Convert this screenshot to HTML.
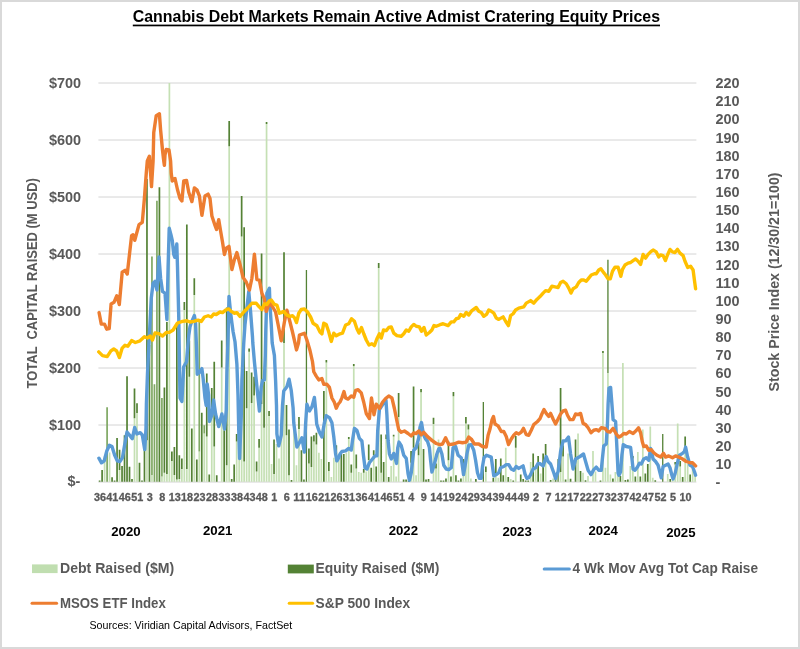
<!DOCTYPE html>
<html lang="en"><head><meta charset="utf-8"><title>Cannabis Debt Markets Remain Active Admist Cratering Equity Prices</title>
<style>html,body{margin:0;padding:0;background:#fff}body{width:800px;height:649px;overflow:hidden}svg{display:block}text{font-family:"Liberation Sans",sans-serif;white-space:pre}</style></head><body>
<svg width="800" height="649" viewBox="0 0 800 649">
<rect x="0" y="0" width="800" height="649" fill="#d9d9d9"/>
<rect x="2" y="2" width="796" height="645" fill="#ffffff"/>
<g stroke="#d4d4d4" stroke-width="1">
<line x1="98.4" y1="83" x2="696.4" y2="83"/>
<line x1="98.4" y1="140" x2="696.4" y2="140"/>
<line x1="98.4" y1="197" x2="696.4" y2="197"/>
<line x1="98.4" y1="254" x2="696.4" y2="254"/>
<line x1="98.4" y1="311" x2="696.4" y2="311"/>
<line x1="98.4" y1="368" x2="696.4" y2="368"/>
<line x1="98.4" y1="425" x2="696.4" y2="425"/>
<line x1="98.4" y1="482.0" x2="696.4" y2="482.0"/>
</g>
<path fill="#c5e0b4" d="M103.75 456.3h1.7V481.7h-1.7zM108.74 452.4h1.7V481.7h-1.7zM118.70 470.0h1.7V481.7h-1.7zM133.65 418.3h1.7V481.7h-1.7zM136.15 413.0h1.7V481.7h-1.7zM146.11 440.2h1.7V481.7h-1.7zM151.10 475.0h1.7V481.7h-1.7zM161.06 476.5h1.7V481.7h-1.7zM163.55 472.8h1.7V481.7h-1.7zM166.05 474.0h1.7V481.7h-1.7zM168.54 83.0h1.7V481.7h-1.7zM171.03 460.9h1.7V481.7h-1.7zM173.52 475.0h1.7V481.7h-1.7zM176.01 479.6h1.7V481.7h-1.7zM178.50 479.0h1.7V481.7h-1.7zM181.00 469.0h1.7V481.7h-1.7zM183.49 310.0h1.7V481.7h-1.7zM185.98 469.0h1.7V481.7h-1.7zM188.47 376.8h1.7V481.7h-1.7zM193.45 295.0h1.7V481.7h-1.7zM198.44 451.5h1.7V481.7h-1.7zM203.42 433.4h1.7V481.7h-1.7zM205.91 436.5h1.7V481.7h-1.7zM210.90 410.0h1.7V481.7h-1.7zM213.39 446.5h1.7V481.7h-1.7zM220.86 367.4h1.7V481.7h-1.7zM225.85 465.2h1.7V481.7h-1.7zM228.34 146.2h1.7V481.7h-1.7zM235.81 441.5h1.7V481.7h-1.7zM238.31 455.0h1.7V481.7h-1.7zM240.80 236.6h1.7V481.7h-1.7zM243.29 461.5h1.7V481.7h-1.7zM245.78 408.2h1.7V481.7h-1.7zM248.27 351.8h1.7V481.7h-1.7zM250.76 403.0h1.7V481.7h-1.7zM253.26 395.5h1.7V481.7h-1.7zM255.75 471.5h1.7V481.7h-1.7zM258.24 447.8h1.7V481.7h-1.7zM260.73 404.0h1.7V481.7h-1.7zM263.22 427.8h1.7V481.7h-1.7zM265.71 124.0h1.7V481.7h-1.7zM268.21 416.0h1.7V481.7h-1.7zM270.70 464.0h1.7V481.7h-1.7zM273.19 474.0h1.7V481.7h-1.7zM275.68 444.0h1.7V481.7h-1.7zM278.17 458.4h1.7V481.7h-1.7zM280.66 420.0h1.7V481.7h-1.7zM283.16 343.0h1.7V481.7h-1.7zM285.65 435.2h1.7V481.7h-1.7zM288.14 475.2h1.7V481.7h-1.7zM293.12 416.0h1.7V481.7h-1.7zM295.61 465.2h1.7V481.7h-1.7zM298.11 429.0h1.7V481.7h-1.7zM308.07 463.4h1.7V481.7h-1.7zM310.56 467.0h1.7V481.7h-1.7zM313.06 441.5h1.7V481.7h-1.7zM315.55 444.6h1.7V481.7h-1.7zM318.04 452.8h1.7V481.7h-1.7zM320.53 459.0h1.7V481.7h-1.7zM325.51 362.4h1.7V481.7h-1.7zM328.01 470.9h1.7V481.7h-1.7zM330.50 477.0h1.7V481.7h-1.7zM332.99 457.8h1.7V481.7h-1.7zM335.48 461.5h1.7V481.7h-1.7zM337.97 454.0h1.7V481.7h-1.7zM345.45 452.8h1.7V481.7h-1.7zM347.94 439.0h1.7V481.7h-1.7zM350.43 472.8h1.7V481.7h-1.7zM352.92 366.0h1.7V481.7h-1.7zM355.42 468.4h1.7V481.7h-1.7zM357.91 472.0h1.7V481.7h-1.7zM360.40 472.8h1.7V481.7h-1.7zM362.89 472.8h1.7V481.7h-1.7zM365.38 471.5h1.7V481.7h-1.7zM367.87 460.0h1.7V481.7h-1.7zM372.86 455.2h1.7V481.7h-1.7zM377.84 268.1h1.7V481.7h-1.7zM380.33 472.8h1.7V481.7h-1.7zM385.32 439.0h1.7V481.7h-1.7zM390.30 465.9h1.7V481.7h-1.7zM392.79 436.5h1.7V481.7h-1.7zM395.28 476.5h1.7V481.7h-1.7zM397.77 417.1h1.7V481.7h-1.7zM410.23 462.8h1.7V481.7h-1.7zM412.72 447.8h1.7V481.7h-1.7zM415.22 475.2h1.7V481.7h-1.7zM417.71 455.2h1.7V481.7h-1.7zM420.20 392.2h1.7V481.7h-1.7zM432.66 424.0h1.7V481.7h-1.7zM435.15 468.4h1.7V481.7h-1.7zM437.64 439.6h1.7V481.7h-1.7zM447.61 460.2h1.7V481.7h-1.7zM452.59 396.2h1.7V481.7h-1.7zM462.56 475.9h1.7V481.7h-1.7zM465.05 423.4h1.7V481.7h-1.7zM467.54 429.6h1.7V481.7h-1.7zM470.03 478.4h1.7V481.7h-1.7zM484.98 472.0h1.7V481.7h-1.7zM494.95 474.0h1.7V481.7h-1.7zM497.44 477.8h1.7V481.7h-1.7zM504.92 447.8h1.7V481.7h-1.7zM509.90 479.0h1.7V481.7h-1.7zM514.88 447.8h1.7V481.7h-1.7zM529.83 462.0h1.7V481.7h-1.7zM534.82 466.5h1.7V481.7h-1.7zM539.80 473.4h1.7V481.7h-1.7zM544.78 456.5h1.7V481.7h-1.7zM552.26 478.4h1.7V481.7h-1.7zM559.73 472.0h1.7V481.7h-1.7zM562.23 456.5h1.7V481.7h-1.7zM567.21 453.4h1.7V481.7h-1.7zM577.18 433.4h1.7V481.7h-1.7zM582.16 472.8h1.7V481.7h-1.7zM587.14 475.9h1.7V481.7h-1.7zM592.13 450.9h1.7V481.7h-1.7zM594.62 471.5h1.7V481.7h-1.7zM602.09 353.0h1.7V481.7h-1.7zM604.59 467.8h1.7V481.7h-1.7zM607.08 373.0h1.7V481.7h-1.7zM609.57 474.6h1.7V481.7h-1.7zM614.55 472.0h1.7V481.7h-1.7zM617.04 474.0h1.7V481.7h-1.7zM622.03 363.0h1.7V481.7h-1.7zM629.50 466.0h1.7V481.7h-1.7zM631.99 458.5h1.7V481.7h-1.7zM636.98 452.0h1.7V481.7h-1.7zM641.96 429.6h1.7V481.7h-1.7zM649.44 426.5h1.7V481.7h-1.7zM651.93 477.8h1.7V481.7h-1.7zM666.88 474.0h1.7V481.7h-1.7zM671.86 477.8h1.7V481.7h-1.7zM674.35 464.6h1.7V481.7h-1.7zM676.84 423.4h1.7V481.7h-1.7zM679.34 466.5h1.7V481.7h-1.7zM684.32 446.5h1.7V481.7h-1.7zM686.81 464.0h1.7V481.7h-1.7zM691.79 466.5h1.7V481.7h-1.7zM694.29 475.2h1.7V481.7h-1.7z"/>
<path fill="#548235" d="M98.77 480.5h1.7V481.7h-1.7zM101.26 470.0h1.7V481.7h-1.7zM111.23 477.2h1.7V481.7h-1.7zM113.72 480.5h1.7V481.7h-1.7zM116.21 438.0h1.7V481.7h-1.7zM118.70 449.7h1.7V470.0h-1.7zM121.20 466.0h1.7V481.7h-1.7zM123.69 435.3h1.7V481.7h-1.7zM126.18 376.2h1.7V481.7h-1.7zM128.67 466.8h1.7V481.7h-1.7zM131.16 479.0h1.7V481.7h-1.7zM133.65 388.4h1.7V418.3h-1.7zM136.15 403.3h1.7V413.0h-1.7zM138.64 462.8h1.7V481.7h-1.7zM141.13 480.5h1.7V481.7h-1.7zM143.62 450.3h1.7V481.7h-1.7zM146.11 179.0h1.7V440.2h-1.7zM148.60 345.0h1.7V481.7h-1.7zM158.57 187.2h1.7V481.7h-1.7zM163.55 387.4h1.7V472.8h-1.7zM166.05 322.0h1.7V474.0h-1.7zM171.03 451.5h1.7V460.9h-1.7zM173.52 447.0h1.7V475.0h-1.7zM176.01 325.0h1.7V479.6h-1.7zM178.50 455.2h1.7V479.0h-1.7zM181.00 458.4h1.7V469.0h-1.7zM183.49 302.0h1.7V310.0h-1.7zM185.98 224.5h1.7V469.0h-1.7zM188.47 340.5h1.7V376.8h-1.7zM190.96 428.4h1.7V481.7h-1.7zM193.45 278.2h1.7V295.0h-1.7zM195.95 459.6h1.7V481.7h-1.7zM200.93 412.8h1.7V481.7h-1.7zM205.91 373.6h1.7V436.5h-1.7zM208.40 474.6h1.7V481.7h-1.7zM210.90 388.0h1.7V410.0h-1.7zM213.39 361.8h1.7V446.5h-1.7zM215.88 475.2h1.7V481.7h-1.7zM220.86 340.5h1.7V367.4h-1.7zM223.35 430.2h1.7V481.7h-1.7zM225.85 307.6h1.7V465.2h-1.7zM228.34 121.0h1.7V146.2h-1.7zM230.83 479.0h1.7V481.7h-1.7zM233.32 464.6h1.7V481.7h-1.7zM235.81 434.0h1.7V441.5h-1.7zM240.80 196.0h1.7V236.6h-1.7zM243.29 227.2h1.7V461.5h-1.7zM245.78 371.0h1.7V408.2h-1.7zM248.27 348.6h1.7V351.8h-1.7zM250.76 372.4h1.7V403.0h-1.7zM253.26 376.8h1.7V395.5h-1.7zM255.75 461.5h1.7V471.5h-1.7zM258.24 439.0h1.7V447.8h-1.7zM260.73 253.5h1.7V404.0h-1.7zM263.22 381.8h1.7V427.8h-1.7zM265.71 122.0h1.7V124.0h-1.7zM268.21 411.0h1.7V416.0h-1.7zM273.19 439.6h1.7V474.0h-1.7zM283.16 252.2h1.7V343.0h-1.7zM285.65 404.9h1.7V435.2h-1.7zM288.14 429.6h1.7V475.2h-1.7zM290.63 480.0h1.7V481.7h-1.7zM298.11 417.0h1.7V429.0h-1.7zM300.60 450.2h1.7V481.7h-1.7zM303.09 479.5h1.7V481.7h-1.7zM305.78 270.1h1.3V481.7h-1.3zM308.07 448.4h1.7V463.4h-1.7zM310.56 436.5h1.7V467.0h-1.7zM313.06 435.2h1.7V441.5h-1.7zM315.55 432.8h1.7V444.6h-1.7zM323.02 391.1h1.7V481.7h-1.7zM325.51 359.9h1.7V362.4h-1.7zM328.01 462.0h1.7V470.9h-1.7zM335.48 445.2h1.7V461.5h-1.7zM340.46 454.0h1.7V481.7h-1.7zM342.96 454.0h1.7V481.7h-1.7zM347.94 437.0h1.7V439.0h-1.7zM350.43 464.6h1.7V472.8h-1.7zM352.92 364.0h1.7V366.0h-1.7zM355.42 454.6h1.7V468.4h-1.7zM362.89 469.0h1.7V472.8h-1.7zM367.87 444.6h1.7V460.0h-1.7zM370.37 467.8h1.7V481.7h-1.7zM372.86 450.2h1.7V455.2h-1.7zM375.35 466.5h1.7V481.7h-1.7zM377.84 263.1h1.7V268.1h-1.7zM380.33 434.6h1.7V472.8h-1.7zM382.82 462.0h1.7V481.7h-1.7zM385.32 434.6h1.7V439.0h-1.7zM387.81 477.0h1.7V481.7h-1.7zM392.79 434.8h1.7V436.5h-1.7zM397.77 392.9h1.7V417.1h-1.7zM402.76 479.6h1.7V481.7h-1.7zM405.25 479.6h1.7V481.7h-1.7zM407.74 480.5h1.7V481.7h-1.7zM410.23 450.9h1.7V462.8h-1.7zM412.72 386.6h1.7V447.8h-1.7zM417.71 442.8h1.7V455.2h-1.7zM420.20 389.1h1.7V392.2h-1.7zM422.69 449.0h1.7V481.7h-1.7zM425.18 479.6h1.7V481.7h-1.7zM427.67 479.0h1.7V481.7h-1.7zM432.66 417.8h1.7V424.0h-1.7zM435.15 463.4h1.7V468.4h-1.7zM440.13 480.5h1.7V481.7h-1.7zM442.62 480.5h1.7V481.7h-1.7zM445.12 478.4h1.7V481.7h-1.7zM447.61 441.5h1.7V460.2h-1.7zM450.10 476.5h1.7V481.7h-1.7zM452.59 391.9h1.7V396.2h-1.7zM455.08 475.2h1.7V481.7h-1.7zM457.57 480.5h1.7V481.7h-1.7zM460.07 478.4h1.7V481.7h-1.7zM462.56 459.0h1.7V475.9h-1.7zM465.05 417.1h1.7V423.4h-1.7zM467.54 424.6h1.7V429.6h-1.7zM475.02 479.0h1.7V481.7h-1.7zM482.69 401.9h1.3V481.7h-1.3zM484.98 466.5h1.7V472.0h-1.7zM492.46 477.8h1.7V481.7h-1.7zM494.95 459.0h1.7V474.0h-1.7zM499.93 458.4h1.7V481.7h-1.7zM502.43 475.2h1.7V481.7h-1.7zM507.41 477.0h1.7V481.7h-1.7zM512.39 480.5h1.7V481.7h-1.7zM514.88 435.9h1.7V447.8h-1.7zM519.87 474.6h1.7V481.7h-1.7zM522.36 479.0h1.7V481.7h-1.7zM524.85 480.5h1.7V481.7h-1.7zM527.34 480.5h1.7V481.7h-1.7zM532.33 453.4h1.7V481.7h-1.7zM537.31 455.9h1.7V481.7h-1.7zM542.29 453.4h1.7V481.7h-1.7zM544.78 444.0h1.7V456.5h-1.7zM549.77 480.0h1.7V481.7h-1.7zM554.75 477.8h1.7V481.7h-1.7zM557.44 459.0h1.3V481.7h-1.3zM559.73 388.0h1.7V472.0h-1.7zM562.23 445.2h1.7V456.5h-1.7zM564.72 479.6h1.7V481.7h-1.7zM569.70 478.8h1.7V481.7h-1.7zM574.68 439.6h1.7V481.7h-1.7zM579.67 470.9h1.7V481.7h-1.7zM584.65 480.2h1.7V481.7h-1.7zM599.60 480.5h1.7V481.7h-1.7zM602.09 351.0h1.7V353.0h-1.7zM607.28 259.8h1.3V373.0h-1.3zM612.06 478.4h1.7V481.7h-1.7zM619.54 476.0h1.7V481.7h-1.7zM624.52 480.0h1.7V481.7h-1.7zM627.01 479.6h1.7V481.7h-1.7zM631.99 456.0h1.7V458.5h-1.7zM634.49 476.5h1.7V481.7h-1.7zM639.47 476.5h1.7V481.7h-1.7zM644.45 473.4h1.7V481.7h-1.7zM646.94 464.0h1.7V481.7h-1.7zM654.42 480.2h1.7V481.7h-1.7zM662.09 434.0h1.3V481.7h-1.3zM669.37 479.0h1.7V481.7h-1.7zM674.35 462.0h1.7V464.6h-1.7zM679.34 460.9h1.7V466.5h-1.7zM681.83 477.0h1.7V481.7h-1.7zM684.32 436.5h1.7V446.5h-1.7zM689.30 474.6h1.7V481.7h-1.7z"/>
<path fill="#7fa863" d="M106.25 407.2h1.7V481.7h-1.7zM151.10 256.5h1.7V475.0h-1.7zM153.59 384.2h1.7V481.7h-1.7zM156.08 200.8h1.7V481.7h-1.7zM161.06 398.0h1.7V476.5h-1.7zM198.44 322.0h1.7V451.5h-1.7zM203.42 425.2h1.7V433.4h-1.7z"/>
<polyline fill="none" stroke="#5b9bd5" stroke-width="3.4" stroke-linejoin="round" stroke-linecap="round" points="98.9,458.2 101.5,462.8 104.2,460.9 106.8,451 109.4,445.2 112,446.5 114.6,455 117.25,460.9 119.9,461.5 122.5,457.6 124.5,445.8 127,432 129.7,435.3 132.3,438.6 134.7,427.5 136.9,434 140.2,432.7 142.3,435 144.75,449.6 146,428 146.4,404 147.5,373 148.75,348 150,323 151.25,298.25 153.1,283.25 155,281.4 156.9,290 159,257 160.6,278.25 162.5,291.4 165,293.25 166.9,319.5 168.1,267 169.2,228.2 171,235 172.25,240.3 173.75,254.5 174.8,257.3 176.8,244 177.5,267 178.75,317 179.4,360.5 180,398 181.9,401.5 183.75,366.75 186.5,361.75 188.75,335.5 190,326.75 191.25,323 194.4,315.5 195.6,323 196.5,348 197.25,374.25 199.4,372.4 201.9,368.6 203.1,378 205,398 206.2,405.5 207.2,384 208.6,395 209.5,421.5 211.9,415 213.6,400 215.6,414 218.75,426.5 221.9,414 224.5,429 226.25,410.25 226.9,373 228.1,335.5 229,296.4 230.5,312 231.9,323 233.1,331.75 235,341.75 236.9,364.25 238,395 238.75,430 239.6,458.5 241.25,416.5 241.9,380.5 243.75,343 245,324.5 248.75,291.4 250.6,312 252.5,337 252.8,343 254.4,361.75 256.9,386.75 259.4,411.1 261.25,386.75 262.5,380.5 264.4,379.9 265.3,355.5 265.8,330 266.9,293.25 269.4,288.25 270,305.75 271.25,324.5 272.2,343 274.4,355.5 275.6,380.5 276.5,405.5 276.9,434 278.75,445.9 281.25,435.25 282.5,405.5 283.75,391.1 286.9,386.75 289.1,379.25 291.25,390.5 293.1,408 293.75,422.75 296.9,447.1 299.4,442.75 301.9,437.75 304.4,452.1 305.6,424 306.9,404.25 309.4,411 311.9,406.9 314.4,397.4 315.6,409.25 316.7,424 319.4,432.1 321.9,437.1 324.4,422.75 326.25,415.7 329.4,417.6 331.9,422.75 333.75,436.5 335.6,454 336.9,460.9 338.75,457.75 340,454 341.9,451.5 345.6,450.9 348.75,448.4 351.25,450 352.5,440.5 354.4,428.4 356.9,430.3 359.4,438.4 361.9,441 363.4,455 365,467.75 366.9,469 369.4,462.75 372.5,459 375,455.9 376.9,455.9 377.7,431 379.4,409.5 382.5,404.75 386,400.4 386.9,414.75 388.1,440.5 389.4,454 391.25,459 393.75,453.4 396.5,463.4 397.75,447.75 399,442.1 401.25,445.6 403.75,455.25 406.25,458.4 408.1,474 409.4,480.25 411.25,472.75 413.75,450.25 416.25,447.5 418.75,437.75 420,427.25 421.5,422.5 423.4,434.3 425.3,438.7 427.5,441.3 429.4,447.5 430.6,460.25 431.9,472.1 434.4,464 436.9,454 438.75,448.8 440,448.2 441.9,454 443.75,465.25 446.25,469 448.75,469.6 451.25,467.75 453.1,447.75 455.6,446.5 458.1,455.25 461.25,457.75 463.5,474.6 465,466.5 466.9,454 468.75,445.25 471.25,444.6 473.75,450.25 475.6,460.25 477.5,472.75 479.4,478.4 481.25,478.4 482.5,466.5 484,457.75 486.5,455.25 491.25,457.1 492.5,466.5 493.75,475.9 496.25,474.6 498.75,472.75 500.6,467.75 503.75,466.5 506.25,464.6 508.75,464.6 511.25,469 513.75,470.25 516.25,466.5 518.75,468.4 523.1,465.9 525,474 526.9,478.4 528.75,477.75 530.6,474.6 533.1,469 535.6,467.75 538.1,463.4 540,463.7 543.1,465.9 546.25,456.5 548.1,461.5 550.6,464 553.75,472.75 555.6,478.4 558.1,471.5 560.6,451.5 563.1,440.9 565.6,440.9 568.5,437.1 570.6,454 573.1,469 575.6,459 580,456.5 583.5,454 585.6,461.5 588.1,470.25 591,474.6 593.75,469.6 596.25,467.1 598.75,470.25 601.25,470.25 602.5,457.75 603.75,445.9 606.25,444 607.5,422.75 608.1,404 609,388 610.6,387.4 611.9,404 613.1,419.6 615.6,421.5 616.9,447.75 618.1,473 619,475.25 620.6,471.8 621.9,455 623.3,444.6 626.25,446.5 630.6,447.4 631.9,458.4 633.1,469 635,470.25 637.5,467 639.4,463.2 641.25,464 643.75,459 646.25,457.75 648.75,460.25 650.6,448.4 653.1,459 655.6,461.5 658.1,465.25 660,472.75 661.25,477.75 663.1,466.5 665.6,465.25 668.1,464 670,467.75 671.9,475.25 673.1,479 675,474 677.5,462.75 679.4,455.25 682.5,453.4 684.4,451.5 685.6,447.1 687.5,456.5 690,465.25 692.5,466.5 694.4,471.5 695.6,475.25"/>
<polyline fill="none" stroke="#ed7d31" stroke-width="3.4" stroke-linejoin="round" stroke-linecap="round" points="99.1,312.75 101.3,324.1 104.5,324.1 106.7,329.2 109.2,328.6 111.1,303.9 114,302.3 116.8,295.7 119.3,304.5 122.2,272.2 125,270.3 127.25,274 131.6,235.6 133,234.7 134.75,240.3 139,224.6 142.3,222.3 144.4,198.5 146.25,173.5 147.3,161 149.4,156.25 151.5,186.6 153.1,161 153.75,132.5 156.25,115.6 159.4,113.75 160.6,130 162.5,150 163.75,161 164.4,165.4 165,155 166.25,149.4 169,150 170.6,161 171.25,173.5 172.25,181 175,178.5 177.5,189.75 180,198.5 181.9,201 183.75,181 186.5,180.4 188.75,192.25 191.9,201.6 194.4,187.9 196.9,189.75 199.4,196 201.9,215.4 205,196 208.1,194.1 210,198.5 211.9,216 215,225.4 216.5,229.5 218.75,219.75 220.6,231 222.5,242 224.4,254.5 226.25,248.25 229,246.4 231.9,269.5 234.4,259.5 236.9,252.6 240,264.5 243.1,277.6 246.25,282 249.4,290.1 251.9,278.25 254.4,254.1 256.9,279.5 259.4,280.1 261.9,293.25 264.4,298.9 266.25,311.4 269.4,303.25 271.9,305.75 275.6,312 278.1,324.5 281.25,340.75 284.4,322 286.9,310.1 290,322 292.5,332 295,343 296.5,349.9 298.5,343 299.4,335.1 304.4,333.25 306.9,340.1 307.8,343 310,350.5 312.5,361.75 313.75,371.75 316.25,376.1 318.75,379.9 321.9,378.6 323.75,384.25 326.9,384.25 329.4,387.4 331.9,398 334.4,402.4 336.25,408.2 338.1,404.25 340,402 341.9,397.9 344,391.6 345.6,397.9 348.1,399.1 351.25,396 353.75,397.25 355.6,390.4 358.1,389.75 361.25,392.9 363.75,402.25 366.25,413.5 369.4,418.5 371.5,397.9 374,414.75 376.25,404.1 379.4,408.5 382.5,402.25 385.6,398.5 388.75,396 391.9,397.9 394.4,408.5 396.9,421 398.75,429.75 401.25,432.25 404.4,431 408.1,433.5 411.25,436 413.75,432.9 416.25,433.5 418.75,431 421.25,434.75 423.75,432.25 427.5,436.6 431.9,440.4 436.25,443.5 440,444.7 442.5,444 445.6,437.75 448.75,444.6 453.75,444 458.75,442.1 462.5,442.75 466.25,442.1 468.75,437.1 471.25,439 474.4,444 478.75,444 482.5,446.5 486.25,447.1 488.1,435.25 490,429 491.9,420.25 493.5,416.5 495,424 498.1,425.9 501.25,431.5 503.75,431.5 506.25,436.5 508.5,444.6 511.25,439 513.75,435.25 516.25,432.75 518.75,434 521.25,432.1 523.5,428.4 526.25,434.6 528.75,435.25 531.25,430.25 533.75,424.6 537.5,421.5 540,418.7 541.9,414 544,409.6 546.25,413.4 548.75,416.5 550.6,413.4 553.1,419 555.6,424 558.1,419 560.6,414 563.1,410.9 565.6,410.25 567.5,415.25 570,419.6 573.1,419.6 575.6,414 578.1,414.6 580.6,413.4 583.1,423.4 585.6,424.6 588.1,427.75 591,432.75 593.75,430.25 596.25,429.6 598.75,430.9 601.25,427.75 605,428.4 607.5,431.5 610,432.1 613.1,428.4 616.25,434 618.75,437.1 621.25,435.9 623.75,433.4 626.25,434 629.4,431.5 633.1,433.4 636.25,430.5 638.5,427.75 640.6,432.75 642.25,441.5 643.75,446.5 646.25,445.9 648.75,450.25 651.25,449.6 653.75,452.75 656.9,455.25 660.6,457.1 663.5,453.4 665.6,457.1 668.75,455.9 672.5,457.75 675.6,455.9 678.75,457.1 682.5,459 686.25,461.5 690,462.75 692.5,462.75 695.6,465.9"/>
<polyline fill="none" stroke="#ffc000" stroke-width="3.4" stroke-linejoin="round" stroke-linecap="round" points="98.75,351.9 102.5,355.6 107.2,356.6 110.9,350.9 113.75,349 116.6,350.9 119.4,357.5 122.2,348.1 125,345.3 127.8,346.25 131.6,340.6 135.3,342.5 140,340.8 144.4,336.75 147.5,338 150,336 152.5,340 155,333 158.75,333.6 162.5,336 166.25,332.4 169.4,332.4 173.1,330 177.5,323 182.5,321.4 186.9,320.75 190,322 193.75,321.4 198.1,320.1 201.25,321.4 204.4,317 208.1,315.75 211.25,317 213.75,313.9 216.25,314.5 220,312 222.5,312.6 225.6,310.1 228.75,308.9 231.25,311.4 234.4,313.25 236.9,312.6 240,316.4 243.75,312 247.5,308.25 251.9,303.25 256.25,303.25 258.75,306.4 261.9,309.5 264.4,303.9 266.9,304.5 269.4,300.75 271.25,300.1 274.4,304.5 276.9,305.1 279.4,313.25 281.25,312.6 283.75,311.4 286.9,315.1 290,316.4 292.5,315.75 294.4,317.6 296.5,322.6 298.75,313.25 301.25,309.5 304.4,308.9 307.5,312 310.6,317 313.1,323.25 316.9,325.75 320,332 321.9,333.9 323.75,323.25 326.25,324.5 328.75,332 331.25,341.4 333.75,333.25 336.25,335.75 340,333.8 342.5,333.1 345.6,325 348.75,323.75 351.5,318.75 354.4,321.25 356.9,328.75 359,333.1 361.5,327.5 363.75,333.75 366.25,340 369,345 371.9,343.75 374.4,345.6 376.9,338.75 379.4,333.75 381.25,338.1 383.5,330 386.25,330.6 388.75,327.5 391.25,326.9 393.75,333.1 396.9,335.6 401.25,336.25 403.75,333.75 406.25,330 408.75,331.25 411.25,326.9 413.75,324.4 416.25,326.25 419.4,326.9 421.5,331.25 424,327.5 426.25,335 429.4,332.5 431.9,330 434,325.6 436.25,326.25 440,324.7 443.1,323.75 448.1,325.6 451.25,321.9 453.75,321.9 456.25,318.75 458.75,318.1 460.6,314.4 463.75,316.25 466.25,312.5 468.75,315 471.9,310.6 476.25,307.5 478.75,311.25 481.25,312.5 483.75,316.25 486.5,314.4 488.75,310 491.25,311.25 493.75,313.1 496.25,318.1 498.75,319.4 503.1,316.9 505.6,321.25 508.4,325.6 510.6,315.6 513.1,313.75 515.6,310 518.75,308.1 523.75,306.9 526.25,303.1 530.6,300.6 533.75,303.1 536.9,299.4 540,296.6 543.1,293.1 545.6,290.6 548.75,291.25 551.9,286.25 555,286.9 558.1,287.5 560.6,282.5 563.1,281.25 566.25,283.75 568.75,288.1 571,293.1 573.1,288.75 576.25,286.9 578.75,282.5 581.25,280 583.75,280 586.25,281.25 588.75,278.1 591.25,275 594.4,273.75 596.25,273.75 598.75,270 600.9,268.75 603.1,271.9 605.6,275 608.1,278.75 610.3,278.75 612.5,271.25 615,267.2 618.1,267.2 620.8,276.25 622.5,269.4 625,265 628.1,263.1 630.6,262.5 633.1,260.6 635.6,259 638.1,261.25 640.6,264.4 643.1,254.4 645.6,258.1 648.1,254.4 650.6,251.9 653.1,250 656.25,251.9 658.75,256.9 660.6,255 663.1,255.6 665.4,260.6 667.5,255 670,249.4 672.5,251.9 675,252.5 677.5,249.4 680,253.1 683.1,255.6 685,261.25 687.75,267.5 690.6,266.25 693.1,270 694.4,280 695.6,288.75"/>
<text x="132.80" y="22.40" font-size="17.02" fill="#000" textLength="527.20" lengthAdjust="spacingAndGlyphs" font-weight="bold">Cannabis Debt Markets Remain Active Admist Cratering Equity Prices</text>
<rect x="132.8" y="24.6" width="527.2" height="1.7" fill="#000"/>
<text x="81.10" y="88.20" font-size="14.72" fill="#595959" textLength="32.11" lengthAdjust="spacingAndGlyphs" text-anchor="end" font-weight="bold">$700</text>
<text x="81.10" y="145.20" font-size="14.72" fill="#595959" textLength="32.11" lengthAdjust="spacingAndGlyphs" text-anchor="end" font-weight="bold">$600</text>
<text x="81.10" y="202.20" font-size="14.72" fill="#595959" textLength="32.11" lengthAdjust="spacingAndGlyphs" text-anchor="end" font-weight="bold">$500</text>
<text x="81.10" y="259.20" font-size="14.72" fill="#595959" textLength="32.11" lengthAdjust="spacingAndGlyphs" text-anchor="end" font-weight="bold">$400</text>
<text x="81.10" y="316.20" font-size="14.72" fill="#595959" textLength="32.11" lengthAdjust="spacingAndGlyphs" text-anchor="end" font-weight="bold">$300</text>
<text x="81.10" y="373.20" font-size="14.72" fill="#595959" textLength="32.11" lengthAdjust="spacingAndGlyphs" text-anchor="end" font-weight="bold">$200</text>
<text x="81.10" y="430.20" font-size="14.72" fill="#595959" textLength="32.11" lengthAdjust="spacingAndGlyphs" text-anchor="end" font-weight="bold">$100</text>
<text x="80.30" y="486.10" font-size="14.72" fill="#595959" textLength="12.88" lengthAdjust="spacingAndGlyphs" text-anchor="end" font-weight="bold">$-</text>
<text x="715.60" y="487.20" font-size="14.72" fill="#595959" textLength="4.85" lengthAdjust="spacingAndGlyphs" font-weight="bold">-</text>
<text x="715.40" y="469.06" font-size="14.72" fill="#595959" textLength="16.06" lengthAdjust="spacingAndGlyphs" font-weight="bold">10</text>
<text x="715.40" y="450.93" font-size="14.72" fill="#595959" textLength="16.06" lengthAdjust="spacingAndGlyphs" font-weight="bold">20</text>
<text x="715.40" y="432.79" font-size="14.72" fill="#595959" textLength="16.06" lengthAdjust="spacingAndGlyphs" font-weight="bold">30</text>
<text x="715.40" y="414.66" font-size="14.72" fill="#595959" textLength="16.06" lengthAdjust="spacingAndGlyphs" font-weight="bold">40</text>
<text x="715.40" y="396.52" font-size="14.72" fill="#595959" textLength="16.06" lengthAdjust="spacingAndGlyphs" font-weight="bold">50</text>
<text x="715.40" y="378.38" font-size="14.72" fill="#595959" textLength="16.06" lengthAdjust="spacingAndGlyphs" font-weight="bold">60</text>
<text x="715.40" y="360.25" font-size="14.72" fill="#595959" textLength="16.06" lengthAdjust="spacingAndGlyphs" font-weight="bold">70</text>
<text x="715.40" y="342.11" font-size="14.72" fill="#595959" textLength="16.06" lengthAdjust="spacingAndGlyphs" font-weight="bold">80</text>
<text x="715.40" y="323.98" font-size="14.72" fill="#595959" textLength="16.06" lengthAdjust="spacingAndGlyphs" font-weight="bold">90</text>
<text x="715.40" y="305.84" font-size="14.72" fill="#595959" textLength="24.08" lengthAdjust="spacingAndGlyphs" font-weight="bold">100</text>
<text x="715.40" y="287.70" font-size="14.72" fill="#595959" textLength="24.08" lengthAdjust="spacingAndGlyphs" font-weight="bold">110</text>
<text x="715.40" y="269.57" font-size="14.72" fill="#595959" textLength="24.08" lengthAdjust="spacingAndGlyphs" font-weight="bold">120</text>
<text x="715.40" y="251.43" font-size="14.72" fill="#595959" textLength="24.08" lengthAdjust="spacingAndGlyphs" font-weight="bold">130</text>
<text x="715.40" y="233.30" font-size="14.72" fill="#595959" textLength="24.08" lengthAdjust="spacingAndGlyphs" font-weight="bold">140</text>
<text x="715.40" y="215.16" font-size="14.72" fill="#595959" textLength="24.08" lengthAdjust="spacingAndGlyphs" font-weight="bold">150</text>
<text x="715.40" y="197.02" font-size="14.72" fill="#595959" textLength="24.08" lengthAdjust="spacingAndGlyphs" font-weight="bold">160</text>
<text x="715.40" y="178.89" font-size="14.72" fill="#595959" textLength="24.08" lengthAdjust="spacingAndGlyphs" font-weight="bold">170</text>
<text x="715.40" y="160.75" font-size="14.72" fill="#595959" textLength="24.08" lengthAdjust="spacingAndGlyphs" font-weight="bold">180</text>
<text x="715.40" y="142.62" font-size="14.72" fill="#595959" textLength="24.08" lengthAdjust="spacingAndGlyphs" font-weight="bold">190</text>
<text x="715.40" y="124.48" font-size="14.72" fill="#595959" textLength="24.08" lengthAdjust="spacingAndGlyphs" font-weight="bold">200</text>
<text x="715.40" y="106.34" font-size="14.72" fill="#595959" textLength="24.08" lengthAdjust="spacingAndGlyphs" font-weight="bold">210</text>
<text x="715.40" y="88.21" font-size="14.72" fill="#595959" textLength="24.08" lengthAdjust="spacingAndGlyphs" font-weight="bold">220</text>
<text x="99.92" y="501.00" font-size="11.04" fill="#595959" textLength="12.04" lengthAdjust="spacingAndGlyphs" text-anchor="middle" font-weight="bold" stroke="#595959" stroke-width="0.3" stroke-linejoin="round">36</text>
<text x="112.38" y="501.00" font-size="11.04" fill="#595959" textLength="12.04" lengthAdjust="spacingAndGlyphs" text-anchor="middle" font-weight="bold" stroke="#595959" stroke-width="0.3" stroke-linejoin="round">41</text>
<text x="124.84" y="501.00" font-size="11.04" fill="#595959" textLength="12.04" lengthAdjust="spacingAndGlyphs" text-anchor="middle" font-weight="bold" stroke="#595959" stroke-width="0.3" stroke-linejoin="round">46</text>
<text x="137.30" y="501.00" font-size="11.04" fill="#595959" textLength="12.04" lengthAdjust="spacingAndGlyphs" text-anchor="middle" font-weight="bold" stroke="#595959" stroke-width="0.3" stroke-linejoin="round">51</text>
<text x="149.75" y="501.00" font-size="11.04" fill="#595959" textLength="6.02" lengthAdjust="spacingAndGlyphs" text-anchor="middle" font-weight="bold" stroke="#595959" stroke-width="0.3" stroke-linejoin="round">3</text>
<text x="162.21" y="501.00" font-size="11.04" fill="#595959" textLength="6.02" lengthAdjust="spacingAndGlyphs" text-anchor="middle" font-weight="bold" stroke="#595959" stroke-width="0.3" stroke-linejoin="round">8</text>
<text x="174.67" y="501.00" font-size="11.04" fill="#595959" textLength="12.04" lengthAdjust="spacingAndGlyphs" text-anchor="middle" font-weight="bold" stroke="#595959" stroke-width="0.3" stroke-linejoin="round">13</text>
<text x="187.13" y="501.00" font-size="11.04" fill="#595959" textLength="12.04" lengthAdjust="spacingAndGlyphs" text-anchor="middle" font-weight="bold" stroke="#595959" stroke-width="0.3" stroke-linejoin="round">18</text>
<text x="199.59" y="501.00" font-size="11.04" fill="#595959" textLength="12.04" lengthAdjust="spacingAndGlyphs" text-anchor="middle" font-weight="bold" stroke="#595959" stroke-width="0.3" stroke-linejoin="round">23</text>
<text x="212.05" y="501.00" font-size="11.04" fill="#595959" textLength="12.04" lengthAdjust="spacingAndGlyphs" text-anchor="middle" font-weight="bold" stroke="#595959" stroke-width="0.3" stroke-linejoin="round">28</text>
<text x="224.50" y="501.00" font-size="11.04" fill="#595959" textLength="12.04" lengthAdjust="spacingAndGlyphs" text-anchor="middle" font-weight="bold" stroke="#595959" stroke-width="0.3" stroke-linejoin="round">33</text>
<text x="236.96" y="501.00" font-size="11.04" fill="#595959" textLength="12.04" lengthAdjust="spacingAndGlyphs" text-anchor="middle" font-weight="bold" stroke="#595959" stroke-width="0.3" stroke-linejoin="round">38</text>
<text x="249.42" y="501.00" font-size="11.04" fill="#595959" textLength="12.04" lengthAdjust="spacingAndGlyphs" text-anchor="middle" font-weight="bold" stroke="#595959" stroke-width="0.3" stroke-linejoin="round">43</text>
<text x="261.88" y="501.00" font-size="11.04" fill="#595959" textLength="12.04" lengthAdjust="spacingAndGlyphs" text-anchor="middle" font-weight="bold" stroke="#595959" stroke-width="0.3" stroke-linejoin="round">48</text>
<text x="274.34" y="501.00" font-size="11.04" fill="#595959" textLength="6.02" lengthAdjust="spacingAndGlyphs" text-anchor="middle" font-weight="bold" stroke="#595959" stroke-width="0.3" stroke-linejoin="round">1</text>
<text x="286.80" y="501.00" font-size="11.04" fill="#595959" textLength="6.02" lengthAdjust="spacingAndGlyphs" text-anchor="middle" font-weight="bold" stroke="#595959" stroke-width="0.3" stroke-linejoin="round">6</text>
<text x="299.26" y="501.00" font-size="11.04" fill="#595959" textLength="12.04" lengthAdjust="spacingAndGlyphs" text-anchor="middle" font-weight="bold" stroke="#595959" stroke-width="0.3" stroke-linejoin="round">11</text>
<text x="311.71" y="501.00" font-size="11.04" fill="#595959" textLength="12.04" lengthAdjust="spacingAndGlyphs" text-anchor="middle" font-weight="bold" stroke="#595959" stroke-width="0.3" stroke-linejoin="round">16</text>
<text x="324.17" y="501.00" font-size="11.04" fill="#595959" textLength="12.04" lengthAdjust="spacingAndGlyphs" text-anchor="middle" font-weight="bold" stroke="#595959" stroke-width="0.3" stroke-linejoin="round">21</text>
<text x="336.63" y="501.00" font-size="11.04" fill="#595959" textLength="12.04" lengthAdjust="spacingAndGlyphs" text-anchor="middle" font-weight="bold" stroke="#595959" stroke-width="0.3" stroke-linejoin="round">26</text>
<text x="349.09" y="501.00" font-size="11.04" fill="#595959" textLength="12.04" lengthAdjust="spacingAndGlyphs" text-anchor="middle" font-weight="bold" stroke="#595959" stroke-width="0.3" stroke-linejoin="round">31</text>
<text x="361.55" y="501.00" font-size="11.04" fill="#595959" textLength="12.04" lengthAdjust="spacingAndGlyphs" text-anchor="middle" font-weight="bold" stroke="#595959" stroke-width="0.3" stroke-linejoin="round">36</text>
<text x="374.01" y="501.00" font-size="11.04" fill="#595959" textLength="12.04" lengthAdjust="spacingAndGlyphs" text-anchor="middle" font-weight="bold" stroke="#595959" stroke-width="0.3" stroke-linejoin="round">41</text>
<text x="386.47" y="501.00" font-size="11.04" fill="#595959" textLength="12.04" lengthAdjust="spacingAndGlyphs" text-anchor="middle" font-weight="bold" stroke="#595959" stroke-width="0.3" stroke-linejoin="round">46</text>
<text x="398.92" y="501.00" font-size="11.04" fill="#595959" textLength="12.04" lengthAdjust="spacingAndGlyphs" text-anchor="middle" font-weight="bold" stroke="#595959" stroke-width="0.3" stroke-linejoin="round">51</text>
<text x="411.38" y="501.00" font-size="11.04" fill="#595959" textLength="6.02" lengthAdjust="spacingAndGlyphs" text-anchor="middle" font-weight="bold" stroke="#595959" stroke-width="0.3" stroke-linejoin="round">4</text>
<text x="423.84" y="501.00" font-size="11.04" fill="#595959" textLength="6.02" lengthAdjust="spacingAndGlyphs" text-anchor="middle" font-weight="bold" stroke="#595959" stroke-width="0.3" stroke-linejoin="round">9</text>
<text x="436.30" y="501.00" font-size="11.04" fill="#595959" textLength="12.04" lengthAdjust="spacingAndGlyphs" text-anchor="middle" font-weight="bold" stroke="#595959" stroke-width="0.3" stroke-linejoin="round">14</text>
<text x="448.76" y="501.00" font-size="11.04" fill="#595959" textLength="12.04" lengthAdjust="spacingAndGlyphs" text-anchor="middle" font-weight="bold" stroke="#595959" stroke-width="0.3" stroke-linejoin="round">19</text>
<text x="461.22" y="501.00" font-size="11.04" fill="#595959" textLength="12.04" lengthAdjust="spacingAndGlyphs" text-anchor="middle" font-weight="bold" stroke="#595959" stroke-width="0.3" stroke-linejoin="round">24</text>
<text x="473.68" y="501.00" font-size="11.04" fill="#595959" textLength="12.04" lengthAdjust="spacingAndGlyphs" text-anchor="middle" font-weight="bold" stroke="#595959" stroke-width="0.3" stroke-linejoin="round">29</text>
<text x="486.13" y="501.00" font-size="11.04" fill="#595959" textLength="12.04" lengthAdjust="spacingAndGlyphs" text-anchor="middle" font-weight="bold" stroke="#595959" stroke-width="0.3" stroke-linejoin="round">34</text>
<text x="498.59" y="501.00" font-size="11.04" fill="#595959" textLength="12.04" lengthAdjust="spacingAndGlyphs" text-anchor="middle" font-weight="bold" stroke="#595959" stroke-width="0.3" stroke-linejoin="round">39</text>
<text x="511.05" y="501.00" font-size="11.04" fill="#595959" textLength="12.04" lengthAdjust="spacingAndGlyphs" text-anchor="middle" font-weight="bold" stroke="#595959" stroke-width="0.3" stroke-linejoin="round">44</text>
<text x="523.51" y="501.00" font-size="11.04" fill="#595959" textLength="12.04" lengthAdjust="spacingAndGlyphs" text-anchor="middle" font-weight="bold" stroke="#595959" stroke-width="0.3" stroke-linejoin="round">49</text>
<text x="535.97" y="501.00" font-size="11.04" fill="#595959" textLength="6.02" lengthAdjust="spacingAndGlyphs" text-anchor="middle" font-weight="bold" stroke="#595959" stroke-width="0.3" stroke-linejoin="round">2</text>
<text x="548.43" y="501.00" font-size="11.04" fill="#595959" textLength="6.02" lengthAdjust="spacingAndGlyphs" text-anchor="middle" font-weight="bold" stroke="#595959" stroke-width="0.3" stroke-linejoin="round">7</text>
<text x="560.88" y="501.00" font-size="11.04" fill="#595959" textLength="12.04" lengthAdjust="spacingAndGlyphs" text-anchor="middle" font-weight="bold" stroke="#595959" stroke-width="0.3" stroke-linejoin="round">12</text>
<text x="573.34" y="501.00" font-size="11.04" fill="#595959" textLength="12.04" lengthAdjust="spacingAndGlyphs" text-anchor="middle" font-weight="bold" stroke="#595959" stroke-width="0.3" stroke-linejoin="round">17</text>
<text x="585.80" y="501.00" font-size="11.04" fill="#595959" textLength="12.04" lengthAdjust="spacingAndGlyphs" text-anchor="middle" font-weight="bold" stroke="#595959" stroke-width="0.3" stroke-linejoin="round">22</text>
<text x="598.26" y="501.00" font-size="11.04" fill="#595959" textLength="12.04" lengthAdjust="spacingAndGlyphs" text-anchor="middle" font-weight="bold" stroke="#595959" stroke-width="0.3" stroke-linejoin="round">27</text>
<text x="610.72" y="501.00" font-size="11.04" fill="#595959" textLength="12.04" lengthAdjust="spacingAndGlyphs" text-anchor="middle" font-weight="bold" stroke="#595959" stroke-width="0.3" stroke-linejoin="round">32</text>
<text x="623.18" y="501.00" font-size="11.04" fill="#595959" textLength="12.04" lengthAdjust="spacingAndGlyphs" text-anchor="middle" font-weight="bold" stroke="#595959" stroke-width="0.3" stroke-linejoin="round">37</text>
<text x="635.64" y="501.00" font-size="11.04" fill="#595959" textLength="12.04" lengthAdjust="spacingAndGlyphs" text-anchor="middle" font-weight="bold" stroke="#595959" stroke-width="0.3" stroke-linejoin="round">42</text>
<text x="648.09" y="501.00" font-size="11.04" fill="#595959" textLength="12.04" lengthAdjust="spacingAndGlyphs" text-anchor="middle" font-weight="bold" stroke="#595959" stroke-width="0.3" stroke-linejoin="round">47</text>
<text x="660.55" y="501.00" font-size="11.04" fill="#595959" textLength="12.04" lengthAdjust="spacingAndGlyphs" text-anchor="middle" font-weight="bold" stroke="#595959" stroke-width="0.3" stroke-linejoin="round">52</text>
<text x="673.01" y="501.00" font-size="11.04" fill="#595959" textLength="6.02" lengthAdjust="spacingAndGlyphs" text-anchor="middle" font-weight="bold" stroke="#595959" stroke-width="0.3" stroke-linejoin="round">5</text>
<text x="685.47" y="501.00" font-size="11.04" fill="#595959" textLength="12.04" lengthAdjust="spacingAndGlyphs" text-anchor="middle" font-weight="bold" stroke="#595959" stroke-width="0.3" stroke-linejoin="round">10</text>
<text x="126.00" y="536.45" font-size="13.50" fill="#000" textLength="29.44" lengthAdjust="spacingAndGlyphs" text-anchor="middle" font-weight="bold">2020</text>
<text x="217.75" y="534.70" font-size="13.50" fill="#000" textLength="29.44" lengthAdjust="spacingAndGlyphs" text-anchor="middle" font-weight="bold">2021</text>
<text x="403.38" y="535.45" font-size="13.50" fill="#000" textLength="29.44" lengthAdjust="spacingAndGlyphs" text-anchor="middle" font-weight="bold">2022</text>
<text x="517.10" y="535.60" font-size="13.50" fill="#000" textLength="29.44" lengthAdjust="spacingAndGlyphs" text-anchor="middle" font-weight="bold">2023</text>
<text x="603.20" y="534.70" font-size="13.50" fill="#000" textLength="29.44" lengthAdjust="spacingAndGlyphs" text-anchor="middle" font-weight="bold">2024</text>
<text x="680.85" y="537.00" font-size="13.50" fill="#000" textLength="29.44" lengthAdjust="spacingAndGlyphs" text-anchor="middle" font-weight="bold">2025</text>
<text x="36.70" y="283.30" font-size="14.72" fill="#595959" textLength="210.20" lengthAdjust="spacingAndGlyphs" text-anchor="middle" font-weight="bold" transform="rotate(-90 36.7 283.3)">TOTAL  CAPITAL RAISED (M USD)</text>
<text x="779.30" y="281.90" font-size="14.72" fill="#595959" textLength="219.00" lengthAdjust="spacingAndGlyphs" text-anchor="middle" font-weight="bold" transform="rotate(-90 779.3 281.9)">Stock Price Index (12/30/21=100)</text>
<rect x="32" y="564.4" width="25.6" height="8.7" fill="#c0deb0"/>
<text x="60.00" y="573.00" font-size="14.72" fill="#595959" textLength="114.21" lengthAdjust="spacingAndGlyphs" font-weight="bold">Debt Raised ($M)</text>
<rect x="287.8" y="564.6" width="26" height="8.8" fill="#548235"/>
<text x="315.60" y="573.00" font-size="14.72" fill="#595959" textLength="123.70" lengthAdjust="spacingAndGlyphs" font-weight="bold">Equity Raised ($M)</text>
<line x1="544.2" y1="568.9" x2="569.4" y2="568.9" stroke="#5b9bd5" stroke-width="3" stroke-linecap="round"/>
<text x="572.60" y="573.00" font-size="14.72" fill="#595959" textLength="185.42" lengthAdjust="spacingAndGlyphs" font-weight="bold">4 Wk Mov Avg Tot Cap Raise</text>
<line x1="32" y1="603.2" x2="56.6" y2="603.2" stroke="#ed7d31" stroke-width="3" stroke-linecap="round"/>
<text x="60.00" y="607.80" font-size="14.72" fill="#595959" textLength="105.76" lengthAdjust="spacingAndGlyphs" font-weight="bold">MSOS ETF Index</text>
<line x1="289.2" y1="603.2" x2="312.6" y2="603.2" stroke="#ffc000" stroke-width="3" stroke-linecap="round"/>
<text x="315.60" y="607.80" font-size="14.72" fill="#595959" textLength="94.55" lengthAdjust="spacingAndGlyphs" font-weight="bold">S&amp;P 500 Index</text>
<text x="89.50" y="628.80" font-size="11.04" fill="#000" textLength="202.74" lengthAdjust="spacingAndGlyphs">Sources: Viridian Capital Advisors, FactSet</text>
</svg></body></html>
